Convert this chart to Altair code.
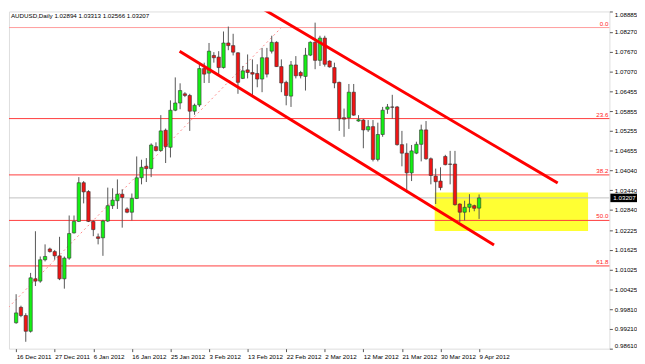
import altair as alt
import pandas as pd

# ---- data (AUDUSD daily) ----
opens = [0.9940, 0.9987, 0.9962, 0.9914, 1.0074, 1.0067, 1.0132, 1.0165, 1.0157, 1.0144,
         1.0074, 1.0137, 1.0214, 1.0249, 1.0367, 1.0340, 1.0249, 1.0202, 1.0199, 1.0250,
         1.0297, 1.0312, 1.0332, 1.0287, 1.0277, 1.0319, 1.0382, 1.0417, 1.0410, 1.0477,
         1.0465, 1.0527, 1.0475, 1.0588, 1.0610, 1.0638, 1.0633, 1.0585, 1.0604, 1.0715,
         1.0701, 1.0755, 1.0750, 1.0718, 1.0793, 1.0785, 1.0763, 1.0685, 1.0711, 1.0703,
         1.0700, 1.0683, 1.0748, 1.0768, 1.0795, 1.0721, 1.0673, 1.0631, 1.0726, 1.0703,
         1.0691, 1.0756, 1.0795, 1.0740, 1.0808, 1.0738, 1.0718, 1.0673, 1.0565, 1.0565,
         1.0643, 1.0555, 1.0558, 1.0528, 1.0538, 1.0438, 1.0514, 1.0591, 1.0598, 1.0598,
         1.0483, 1.0457, 1.0397, 1.0457, 1.0484, 1.0528, 1.0440, 1.0387, 1.0372, 1.0447,
         1.0424, 1.0424, 1.0302, 1.0277, 1.0292, 1.0297, 1.02894]
highs = [1.0027, 0.9992, 0.9969, 1.0092, 1.0219, 1.0142, 1.0179, 1.0169, 1.0162, 1.0202,
         1.0142, 1.0267, 1.0267, 1.0384, 1.0372, 1.0344, 1.0252, 1.0212, 1.0254, 1.0352,
         1.0350, 1.0377, 1.0347, 1.0292, 1.0334, 1.0447, 1.0437, 1.0442, 1.0487, 1.0490,
         1.0573, 1.0532, 1.0618, 1.0688, 1.0670, 1.0643, 1.0638, 1.0608, 1.0727, 1.0733,
         1.0793, 1.0765, 1.0768, 1.0828, 1.0843, 1.0821, 1.0765, 1.0723, 1.0758, 1.0743,
         1.0728, 1.0778, 1.0778, 1.0815, 1.0798, 1.0743, 1.0678, 1.0738, 1.0753, 1.0708,
         1.0778, 1.0798, 1.0855, 1.0815, 1.0815, 1.0740, 1.0733, 1.0675, 1.0593, 1.0668,
         1.0668, 1.0573, 1.0561, 1.0558, 1.0558, 1.0550, 1.0598, 1.0607, 1.0635, 1.0601,
         1.0525, 1.0487, 1.0482, 1.0492, 1.0544, 1.0555, 1.0444, 1.0410, 1.0414, 1.0452,
         1.0464, 1.0464, 1.0304, 1.0312, 1.0332, 1.0300, 1.03313]
lows = [0.9937, 0.9957, 0.9882, 0.9910, 1.0052, 1.0062, 1.0127, 1.0154, 1.0132, 1.0070,
        1.0044, 1.0132, 1.0212, 1.0247, 1.0304, 1.0247, 1.0204, 1.0179, 1.0144, 1.0247,
        1.0287, 1.0287, 1.0230, 1.0274, 1.0252, 1.0317, 1.0362, 1.0369, 1.0384, 1.0462,
        1.0462, 1.0427, 1.0444, 1.0585, 1.0591, 1.0628, 1.0525, 1.0574, 1.0598, 1.0671,
        1.0671, 1.0733, 1.0693, 1.0715, 1.0771, 1.0755, 1.0638, 1.0683, 1.0685, 1.0633,
        1.0658, 1.0643, 1.0688, 1.0761, 1.0720, 1.0643, 1.0603, 1.0598, 1.0685, 1.0685,
        1.0648, 1.0753, 1.0713, 1.0723, 1.0721, 1.0718, 1.0655, 1.0525, 1.0507, 1.0531,
        1.0571, 1.0553, 1.0472, 1.0522, 1.0432, 1.0432, 1.0507, 1.0577, 1.0562, 1.0480,
        1.0417, 1.0337, 1.0372, 1.0454, 1.0432, 1.0437, 1.0362, 1.0302, 1.0344, 1.0420,
        1.0362, 1.0297, 1.0247, 1.0252, 1.0277, 1.0280, 1.02566]
closes = [0.9970, 0.9962, 0.9914, 1.0077, 1.0067, 1.0132, 1.0142, 1.0157, 1.0144, 1.0074,
          1.0137, 1.0212, 1.0249, 1.0367, 1.0339, 1.0249, 1.0224, 1.0197, 1.0250, 1.0297,
          1.0314, 1.0332, 1.0322, 1.0277, 1.0319, 1.0382, 1.0414, 1.0410, 1.0482, 1.0465,
          1.0525, 1.0477, 1.0588, 1.0610, 1.0648, 1.0633, 1.0585, 1.0603, 1.0715, 1.0698,
          1.0768, 1.0748, 1.0718, 1.0793, 1.0785, 1.0765, 1.0673, 1.0708, 1.0703, 1.0698,
          1.0683, 1.0748, 1.0698, 1.0795, 1.0721, 1.0671, 1.0633, 1.0726, 1.0693, 1.0693,
          1.0756, 1.0795, 1.0740, 1.0808, 1.0728, 1.0720, 1.0671, 1.0562, 1.0561, 1.0643,
          1.0573, 1.0559, 1.0528, 1.0538, 1.0438, 1.0514, 1.0588, 1.0598, 1.0597, 1.0483,
          1.0457, 1.0397, 1.0464, 1.0484, 1.0528, 1.0440, 1.0389, 1.0370, 1.0352, 1.0422,
          1.0423, 1.0300, 1.0277, 1.0292, 1.0302, 1.0289, 1.03207]

date_labels = ["16 Dec 2011", "27 Dec 2011", "6 Jan 2012", "16 Jan 2012", "25 Jan 2012",
               "3 Feb 2012", "13 Feb 2012", "22 Feb 2012", "2 Mar 2012", "12 Mar 2012",
               "21 Mar 2012", "30 Mar 2012", "9 Apr 2012"]
label_step = 8

price_ticks = [1.08885, 1.08270, 1.07670, 1.07070, 1.06455, 1.05855, 1.05255, 1.04655,
               1.04040, 1.03440, 1.02840, 1.02225, 1.01625, 1.01025, 1.00425, 0.99810,
               0.99210, 0.98610]

# Fibonacci retracement anchors (bar index, price)
fib_idx = [-23, 55]
fib_price = [0.9664, 1.0840]
fib_names = ["0.0", "23.6", "38.2", "50.0", "61.8"]
fib_ratios = [0.0, 0.236, 0.382, 0.5, 0.618]
fib_colors = ["#ff9c9c", "#ff3c3c", "#ff3c3c", "#ff3c3c", "#ff3c3c"]

# channel lines (bar index, price)
upper_idx = [51.4, 112.3]
upper_price = [1.0895, 1.0366]
lower_idx = [33.9, 99.1]
lower_price = [1.0768, 1.0177]

# support zone
zone_idx = [86.8, 118.6]
zone_price = [1.0337, 1.0220]

last_price = 1.03207
header = "AUDUSD,Daily  1.02894 1.03313 1.02566 1.03207"

# ---- tables ----
n = len(opens)
candles = pd.DataFrame({"i": list(range(n)), "open": opens, "high": highs,
                        "low": lows, "close": closes})
rng = fib_price[1] - fib_price[0]
fib_df = pd.DataFrame({"name": fib_names,
                       "price": [fib_price[1] - r * rng for r in fib_ratios],
                       "col": fib_colors})
fib_line = pd.DataFrame({"i": fib_idx, "p": fib_price})
channels = pd.DataFrame({"i": upper_idx + lower_idx, "p": upper_price + lower_price,
                         "line": ["upper", "upper", "lower", "lower"]})
zone = pd.DataFrame({"x1": [zone_idx[0]], "x2": [zone_idx[1]],
                     "y1": [zone_price[0]], "y2": [zone_price[1]]})

W, H = 609, 342
FONT = "Liberation Sans"
FS = 6.3

xscale = alt.Scale(domain=[-0.46, 122], nice=False, zero=False)
yscale = alt.Scale(domain=[0.98610, 1.08890], nice=False, zero=False)

label_arr = "[" + ",".join("'" + s + "'" for s in date_labels) + "]"
xaxis = alt.Axis(values=list(range(0, n, label_step)),
                 labelExpr=label_arr + "[round(datum.value/" + str(label_step) + ")]",
                 title=None, grid=False, domain=False, tickSize=3, tickColor="#555",
                 labelAlign="left", labelPadding=2, labelFontSize=FS, labelFont=FONT,
                 labelColor="#000", labelFlush=False, labelOverlap=False, labelBound=False)
yaxis = alt.Axis(orient="right", values=price_ticks, format=".5f", title=None, grid=False,
                 domain=False, tickSize=3, tickColor="#555", labelPadding=2,
                 labelFontSize=FS, labelFont=FONT, labelColor="#000",
                 labelOverlap=False, labelFlush=True, labelBound=False)


def X(field):
    return alt.X(field, scale=xscale, axis=xaxis)


def Y(field):
    return alt.Y(field, scale=yscale, axis=yaxis)


base = alt.Chart(candles)

zone_layer = alt.Chart(zone).mark_rect(color="#ffff33", clip=True).encode(
    x=X("x1:Q"), x2="x2:Q", y=Y("y1:Q"), y2="y2:Q")

fib_rules = alt.Chart(fib_df).mark_rule(strokeWidth=1).encode(
    y=Y("price:Q"), color=alt.Color("col:N", scale=None))

fib_text = alt.Chart(fib_df).mark_text(align="right", baseline="bottom", dy=-1,
                                       fontSize=FS, font=FONT, color="#ff2020").encode(
    x=alt.value(W - 1), y=Y("price:Q"), text="name:N")

price_rule = alt.Chart(zone).mark_rule(color="#c0c0c0", strokeWidth=1).encode(
    y=alt.datum(last_price, scale=yscale, axis=yaxis))

fib_dotted = alt.Chart(fib_line).mark_line(strokeDash=[2, 3], color="#ff8a8a",
                                           strokeWidth=1, clip=True).encode(
    x=X("i:Q"), y=Y("p:Q"))

wicks = base.mark_rule(color="#555555", strokeWidth=1).encode(
    x=X("i:Q"), y=Y("low:Q"), y2="high:Q")

bodies = base.mark_bar(width=3.4, stroke="#333333", strokeWidth=0.6).encode(
    x=X("i:Q"), y=Y("open:Q"), y2="close:Q",
    color=alt.condition("datum.close >= datum.open", alt.value("#14f014"),
                        alt.value("#f01414")))

channel_lines = alt.Chart(channels).mark_line(color="#ff0000", strokeWidth=3,
                                              clip=True).encode(
    x=X("i:Q"), y=Y("p:Q"), detail="line:N")

box = alt.Chart(zone).mark_rect(color="#000000").encode(
    x=alt.value(W + 1), x2=alt.value(W + 28),
    y=alt.datum(last_price + 0.0013, scale=yscale, axis=yaxis),
    y2=alt.datum(last_price - 0.0013))

box_text = alt.Chart(zone).mark_text(align="left", baseline="middle", fontSize=FS,
                                     font=FONT, color="#ffffff").encode(
    x=alt.value(W + 4), y=alt.datum(last_price, scale=yscale, axis=yaxis),
    text=alt.value("1.03207"))

head = alt.Chart(zone).mark_text(align="left", baseline="top", fontSize=FS, font=FONT,
                                 color="#000000").encode(
    x=alt.value(2), y=alt.value(2), text=alt.value(header))

chart = alt.layer(zone_layer, fib_rules, price_rule, fib_dotted, wicks, bodies,
                  channel_lines, fib_text, box, box_text, head).properties(
    width=W, height=H, padding={"left": 0, "top": 0, "right": 0, "bottom": 0}
).configure_view(stroke="#666666", strokeWidth=1).configure_axis(
    labelOverlap=False).configure(background="#ffffff")

chart.save("out.html", embed_options={"renderer": "svg", "actions": False})
